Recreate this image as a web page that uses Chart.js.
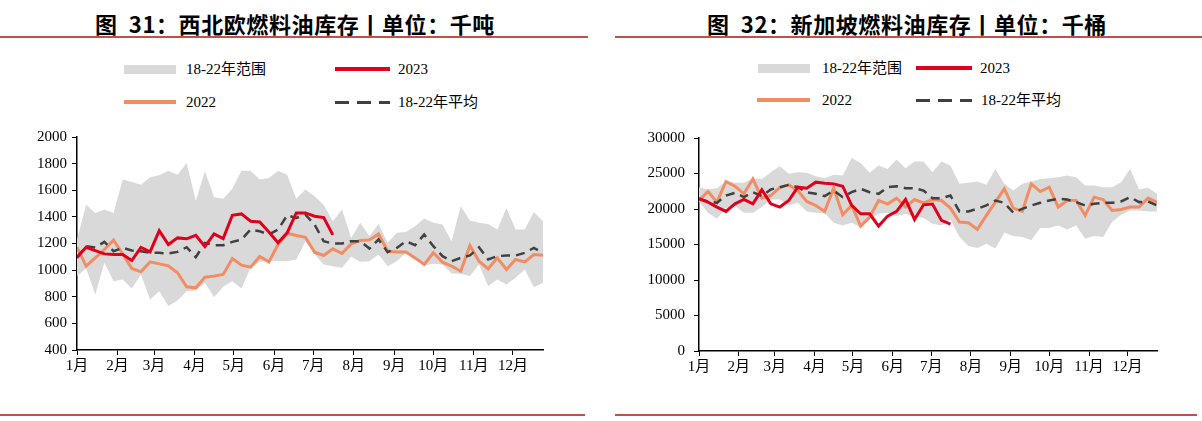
<!DOCTYPE html>
<html lang="zh">
<head>
<meta charset="UTF-8">
<title>燃料油库存</title>
<script src="https://cdn.jsdelivr.net/npm/chart.js"></script>
<style>
  body { margin: 0; width: 1202px; height: 421px; background: #fff; position: relative; overflow: hidden; }
  .title { position: absolute; top: 7px; font-family: "Noto Sans CJK SC", sans-serif; font-weight: bold; font-size: 22px; letter-spacing: 0.6px; color: #000; white-space: nowrap; transform: translateX(-50%); }
  .rule { position: absolute; background: #c0504d; }
  .lg { position: absolute; font-family: "Liberation Serif", "Noto Sans CJK SC", serif; font-size: 15px; color: #000; white-space: nowrap; line-height: 18px; }
  .sw { position: absolute; }
  canvas { position: absolute; }
</style>
</head>
<body>
  <div class="title" style="left:295px">图&nbsp;&nbsp;31：西北欧燃料油库存丨单位：千吨</div>
  <div class="title" style="left:907px">图&nbsp;&nbsp;32：新加坡燃料油库存丨单位：千桶</div>
  <div class="rule" style="left:0;top:36px;width:588px;height:2px"></div>
  <div class="rule" style="left:615px;top:36px;width:587px;height:2px"></div>
  <div class="rule" style="left:0;top:414px;width:585px;height:1.5px"></div>
  <div class="rule" style="left:615px;top:414px;width:582px;height:1.5px"></div>

  <!-- legend, left -->
  <div class="sw" style="left:124px;top:65px;width:52px;height:9px;background:#d9d9d9"></div>
  <div class="lg" style="left:186px;top:60px">18-22年范围</div>
  <div class="sw" style="left:335px;top:67px;width:55px;height:4px;background:#e0001b"></div>
  <div class="lg" style="left:398px;top:60px">2023</div>
  <div class="sw" style="left:124px;top:100px;width:52px;height:4px;background:#f28c63"></div>
  <div class="lg" style="left:186px;top:93px">2022</div>
  <div class="sw" style="left:335px;top:101px;width:55px;height:3px;background:repeating-linear-gradient(90deg,#404040 0 14px,transparent 14px 22px)"></div>
  <div class="lg" style="left:398px;top:93px">18-22年平均</div>

  <!-- legend, right -->
  <div class="sw" style="left:758px;top:64px;width:52px;height:9px;background:#d9d9d9"></div>
  <div class="lg" style="left:822px;top:59px">18-22年范围</div>
  <div class="sw" style="left:916px;top:66px;width:56px;height:4px;background:#e0001b"></div>
  <div class="lg" style="left:980px;top:59px">2023</div>
  <div class="sw" style="left:757px;top:98px;width:53px;height:4px;background:#f28c63"></div>
  <div class="lg" style="left:822px;top:91px">2022</div>
  <div class="sw" style="left:916px;top:99px;width:56px;height:3px;background:repeating-linear-gradient(90deg,#404040 0 14px,transparent 14px 22px)"></div>
  <div class="lg" style="left:981px;top:91px">18-22年平均</div>

  <canvas id="nwe" width="560" height="260" style="left:0;top:120px"></canvas>
  <canvas id="sg" width="580" height="260" style="left:600px;top:120px"></canvas>

<script>
// month start (day of year) and labels
const monthDays = [0, 31, 59, 90, 120, 151, 181, 212, 243, 273, 304, 334];
const monthLabels = ['1月', '2月', '3月', '4月', '5月', '6月', '7月', '8月', '9月', '10月', '11月', '12月'];

// 西北欧 (千吨), weekly
const nweLow = [955,1012,817,1055,917,930,862,967,780,842,730,772,842,847,905,797,875,917,862,1017,1062,1067,1067,1067,1080,1217,1120,1042,1030,1017,1100,1062,1067,1117,1030,1067,1130,1080,1035,1047,1042,975,972,955,1042,880,930,892,942,1005,872,905];
const nweHigh = [1230,1492,1430,1455,1430,1680,1662,1642,1697,1712,1747,1717,1805,1522,1742,1547,1537,1612,1747,1747,1680,1692,1747,1717,1537,1605,1555,1492,1367,1455,1242,1355,1255,1347,1205,1280,1287,1330,1387,1355,1342,1217,1480,1372,1355,1347,1305,1467,1305,1305,1437,1367];
const nweAvg = [1092,1180,1170,1212,1142,1167,1147,1142,1130,1130,1125,1137,1172,1097,1205,1187,1187,1212,1230,1305,1292,1267,1305,1412,1392,1417,1342,1217,1200,1200,1217,1217,1162,1230,1135,1167,1217,1187,1267,1180,1105,1067,1092,1110,1172,1080,1105,1110,1110,1130,1167,1130];
const nwe2022 = [1172,1030,1092,1155,1225,1122,1012,987,1062,1047,1032,980,875,867,947,955,967,1087,1037,1022,1102,1062,1192,1277,1260,1247,1135,1110,1160,1125,1197,1222,1227,1272,1142,1137,1137,1092,1042,1130,1060,1030,992,1185,1067,1010,1092,1005,1080,1062,1117,1112];
const nwe2023 = [1097,1172,1147,1122,1117,1117,1072,1170,1137,1297,1192,1242,1235,1262,1177,1272,1237,1412,1422,1367,1362,1287,1205,1280,1430,1430,1405,1395,1265];

// 新加坡 (千桶), weekly
const sgLow = [21060,19470,18630,20130,20410,19470,19470,20270,21340,21340,20500,20870,19660,19470,19400,18070,17690,18070,17400,18500,19330,19470,19000,19330,18860,18720,17930,17690,18490,16060,14790,14510,15120,14420,16660,16190,16060,15590,17320,17320,17690,17130,17690,15820,16190,16060,18160,19190,19800,19800,19660,19660];
const sgHigh = [23070,22750,22930,23900,23680,23680,24300,24240,25180,26020,24950,25180,25090,24620,24340,24810,24710,27190,26490,25090,26110,25650,26960,25740,26680,26680,25180,26680,26110,23540,23680,23870,23400,25650,23540,22600,23540,23870,24240,24340,24480,24710,24480,23310,23310,23070,23070,23780,25650,22750,22980,22140];
const sgAvg = [21440,21060,20870,21900,22280,21670,22370,21810,22750,23070,23400,23070,22370,22140,21810,22600,21670,22370,22840,22370,22140,23070,23210,22930,22930,22600,21530,21530,21900,19660,19660,20030,20500,21200,20870,19470,20030,20500,20870,21200,21440,21340,20970,20500,20730,20870,20870,21060,21670,20970,21060,20500];
const sg2022 = [21200,22460,20970,23870,23210,22140,24240,21530,21900,23030,23400,22600,21060,20500,19660,22930,19190,20500,17600,18860,21200,20690,21530,20270,21340,20870,21340,21200,20130,18160,18070,17130,19100,20970,22840,20130,19660,23540,22460,23070,20270,21200,21200,19100,21670,21340,19800,19940,20270,20270,21530,20970];
const sg2023 = [21440,20970,20270,19660,20730,21340,20730,22700,20730,20270,21200,23070,22930,23780,23640,23540,23210,20500,19330,19330,17600,19000,19660,21340,18530,20590,20690,18390,17880];

const pts = arr => arr.map((v, i) => ({ x: i * 7, y: v }));
const tickFont = { family: "'Liberation Serif', 'Noto Sans CJK SC', serif", size: 15 };

function makeChart(id, low, high, avg, y22, y23, yMin, yMax, yStep, axisW, padRight, xH, labelPad) {
  new Chart(document.getElementById(id), {
    type: 'line',
    data: {
      datasets: [
        { label: '2023', data: pts(y23), borderColor: '#e0001b', borderWidth: 3, order: 0 },
        { label: '18-22年平均', data: pts(avg), borderColor: '#404040', borderWidth: 2.5, borderDash: [9, 6], order: 1 },
        { label: '2022', data: pts(y22), borderColor: '#f28c63', borderWidth: 3, order: 2 },
        { label: 'low', data: pts(low), borderWidth: 0, borderColor: 'rgba(0,0,0,0)', order: 4 },
        { label: '18-22年范围', data: pts(high), borderWidth: 0, borderColor: 'rgba(0,0,0,0)',
          backgroundColor: '#d9d9d9', fill: 3, order: 3 }
      ]
    },
    options: {
      responsive: false,
      animation: false,
      devicePixelRatio: 1,
      layout: { padding: { top: 17, right: padRight, left: 0, bottom: 0 } },
      elements: { point: { radius: 0 }, line: { tension: 0 } },
      plugins: { legend: { display: false }, tooltip: { enabled: false } },
      scales: {
        x: {
          type: 'linear', min: 0, max: 357,
          afterBuildTicks: s => { s.ticks = monthDays.map(v => ({ value: v })); },
          afterFit: s => { s.height = xH; },
          ticks: { autoSkip: false, maxRotation: 0, color: '#000', font: tickFont, padding: 2,
                   callback: (v, i) => monthLabels[i] },
          grid: { drawOnChartArea: false, drawTicks: true, tickLength: 5, color: '#000', lineWidth: 1 },
          border: { display: true, color: '#000', width: 1.5 }
        },
        y: {
          min: yMin, max: yMax,
          afterFit: s => { s.width = axisW; },
          ticks: { stepSize: yStep, color: '#000', font: tickFont, padding: labelPad,
                   callback: v => String(v) },
          grid: { drawOnChartArea: false, drawTicks: true, tickLength: 5, color: '#000', lineWidth: 1 },
          border: { display: true, color: '#000', width: 1.5 }
        }
      }
    }
  });
}

makeChart('nwe', nweLow, nweHigh, nweAvg, nwe2022, nwe2023, 400, 2000, 200, 77, 17, 30, 5);
makeChart('sg', sgLow, sgHigh, sgAvg, sg2022, sg2023, 0, 30000, 5000, 99, 23, 29, 9);
</script>
</body>
</html>
